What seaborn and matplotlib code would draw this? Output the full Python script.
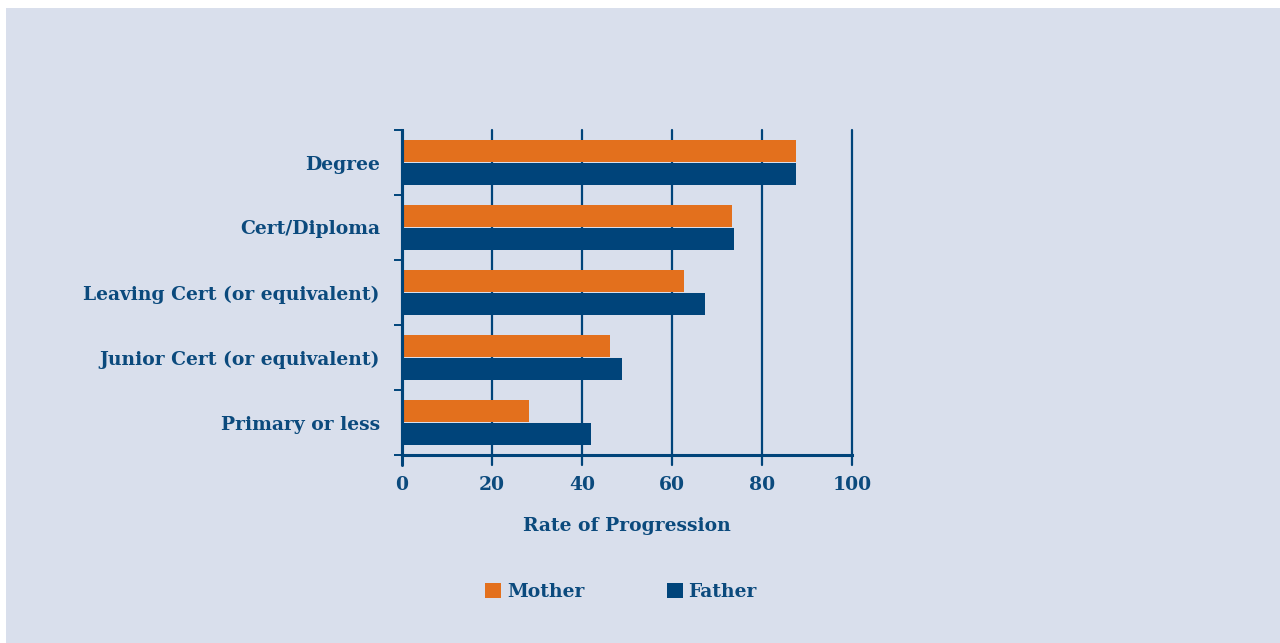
import matplotlib
matplotlib.use("Agg")
import matplotlib.pyplot as plt
import seaborn as sns
import pandas as pd
from matplotlib.patches import Rectangle, Patch

categories = ["Degree", "Cert/Diploma", "Leaving Cert (or equivalent)",
              "Junior Cert (or equivalent)", "Primary or less"]
mother = [87.5, 73.3, 62.7, 46.3, 28.3]
father = [87.5, 73.8, 67.4, 48.8, 42.1]
series = ["Mother", "Father"]
x_ticks = [0, 20, 40, 60, 80, 100]

navy = "#00447A"
orange = "#E3701D"
text_c = "#0B4A7D"
bg = "#D9DFEC"

df = pd.DataFrame({
    "category": categories * 2,
    "value": mother + father,
    "series": ["Mother"] * len(categories) + ["Father"] * len(categories),
})

sns.set_theme(style="white")
plt.rcParams["font.family"] = ["DejaVu Serif"]
plt.rcParams.update({
    "xtick.bottom": True, "ytick.left": True,
    "ytick.minor.size": 6, "ytick.minor.width": 1.4,
    "xtick.color": navy, "ytick.color": navy,
})

fig = plt.figure(figsize=(12.8, 6.43), dpi=100)
fig.patch.set_facecolor("white")
fig.add_artist(Rectangle((6 / 1280, 0), 1 - 6 / 1280, 1 - 8 / 643,
                         transform=fig.transFigure, facecolor=bg,
                         edgecolor="none", zorder=-10))

ax = fig.add_axes([402 / 1280, 1 - 455 / 643, 450 / 1280, 325 / 643])
ax.set_facecolor("none")

sns.barplot(data=df, y="category", x="value", hue="series", order=categories,
            hue_order=series, palette=[orange, navy], orient="h", width=0.68,
            saturation=1, legend=False, linewidth=0, ax=ax, zorder=3)

ax.set_xlim(0, 100)
ax.set_ylim(len(categories) - 0.5, -0.5)
ax.set_xticks(x_ticks)
ax.set_xticklabels([str(t) for t in x_ticks], fontsize=13.5, fontweight="bold", color=text_c)
ax.xaxis.set_tick_params(which="major", length=0, pad=15)
ax.set_yticks(range(len(categories)))
ax.set_yticklabels(categories, fontsize=13.5, fontweight="bold", color=text_c)
ax.yaxis.set_tick_params(which="major", left=True, length=0, pad=16)
ax.set_yticks([i - 0.5 for i in range(len(categories) + 1)], minor=True)
ax.yaxis.set_tick_params(which="minor", left=True, direction="out", length=6,
                         width=1.4, color=navy)

ax.grid(False)
# vertical grid lines that also extend below the axis as tick marks
ext = -10 / 325
for t in x_ticks:
    ax.axvline(t, ymin=ext, ymax=1.0, color=navy, lw=2.2 if t == 0 else 1.6,
               zorder=1 if t else 5, clip_on=False)

for s in ["top", "right"]:
    ax.spines[s].set_visible(False)
for s in ["left", "bottom"]:
    ax.spines[s].set_color(navy)
    ax.spines[s].set_linewidth(2.2)
    ax.spines[s].set_zorder(5)

ax.set_ylabel("")
ax.set_xlabel("Rate of Progression", fontsize=13.5, fontweight="bold", color=text_c, labelpad=17)

handles = [Patch(facecolor=orange, edgecolor="none"), Patch(facecolor=navy, edgecolor="none")]
leg = fig.legend(handles, series, loc="center", bbox_to_anchor=(621 / 1280, 1 - 592 / 643),
                 ncol=2, frameon=False, handlelength=0.85, handleheight=0.85,
                 handletextpad=0.3, columnspacing=4.4,
                 prop={"size": 13.5, "weight": "bold"})
for t in leg.get_texts():
    t.set_color(text_c)

fig.savefig("out.png", dpi=100, facecolor=fig.get_facecolor())
